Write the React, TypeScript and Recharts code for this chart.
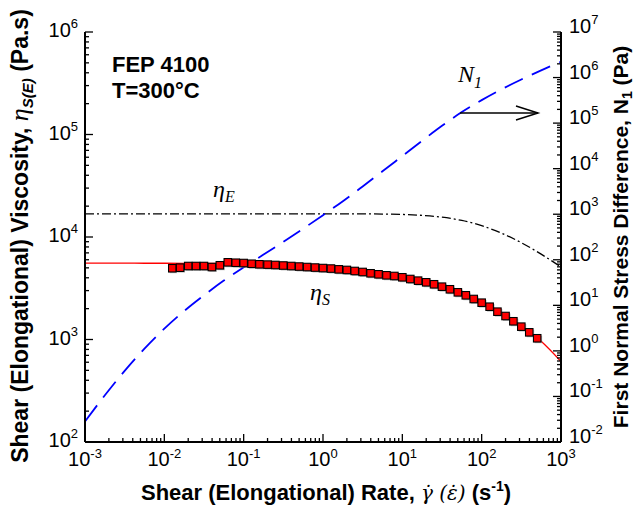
import React from "react";
import { ComposedChart, Line, Scatter, XAxis, YAxis } from "recharts";

// measured shear viscosity (red squares)
const shearRate = [
  0.0126, 0.0158, 0.02, 0.0251, 0.0316, 0.0398, 0.0501, 0.0631, 0.0794, 0.1,
  0.126, 0.158, 0.2, 0.251, 0.316, 0.398, 0.501, 0.631, 0.794, 1,
  1.26, 1.58, 2, 2.51, 3.16, 3.98, 5.01, 6.31, 7.94, 10,
  12.6, 15.8, 20, 25.1, 31.6, 39.8, 50.1, 63.1, 79.4, 100,
  126, 158, 200, 251, 316, 398, 501,
];
const shearEta = [
  4955, 5018, 5212, 5212, 5212, 5093, 5297, 5662, 5610, 5572,
  5483, 5416, 5378, 5334, 5270, 5212, 5150, 5093, 5035, 4978,
  4922, 4835, 4770, 4660, 4557, 4425, 4325, 4230, 4165, 4045,
  3893, 3750, 3614, 3457, 3275, 3090, 2886, 2700, 2484, 2286,
  2089, 1868, 1695, 1506, 1334, 1175, 1028,
];

// model curves, one value every quarter decade
const modelRate = [
  0.001, 0.00178, 0.00316, 0.00562, 0.01, 0.0178, 0.0316, 0.0562, 0.1, 0.178,
  0.316, 0.562, 1, 1.78, 3.16, 5.62, 10, 17.8, 31.6, 56.2,
  100, 178, 316, 562, 1000,
];
const etaSFit = [
  5550, 5550, 5550, 5548, 5545, 5540, 5530, 5515, 5490, 5440,
  5360, 5230, 5060, 4840, 4580, 4300, 4000, 3660, 3280, 2830,
  2330, 1830, 1360, 960, 610,
];
const etaEFit = [
  16800, 16800, 16800, 16800, 16800, 16800, 16800, 16800, 16800, 16800,
  16800, 16800, 16800, 16800, 16800, 16750, 16600, 16250, 15600, 14500,
  12900, 10900, 8800, 6800, 5100,
];
const n1Fit = [
  0.0282, 0.106, 0.365, 1.12, 3.07, 7.5, 16.6, 34.9, 68.4, 130,
  248, 481, 955, 1934, 4074, 8738, 18970, 41170, 87300, 174800,
  319900, 552600, 907000, 1437000, 2226000,
];

// axis decades and their exponent labels
const xMajor = [0.001, 0.01, 0.1, 1, 10, 100, 1000];
const xExp = ["-3", "-2", "-1", "0", "1", "2", "3"];
const leftMajor = [100, 1000, 10000, 100000, 1000000];
const leftExp = ["2", "3", "4", "5", "6"];
const rightMajor = [0.01, 0.1, 1, 10, 100, 1000, 10000, 100000, 1000000, 10000000];
const rightExp = ["-2", "-1", "0", "1", "2", "3", "4", "5", "6", "7"];

const SANS = "'Liberation Sans', Arial, Helvetica, sans-serif";
const SERIF = "'Liberation Serif', 'Times New Roman', serif";

const shearData = shearRate.map((rate, i) => ({ rate, eta: shearEta[i] }));
const etaSData = modelRate.map((rate, i) => ({ rate, eta: etaSFit[i] }));
const etaEData = modelRate.map((rate, i) => ({ rate, eta: etaEFit[i] }));
const n1Data = modelRate.map((rate, i) => ({ rate, n1: n1Fit[i] }));

// log ticks: every decade plus 2..9 in between
const withMinors = (majors: number[]) => {
  const out: number[] = [];
  majors.forEach((m, i) => {
    if (i === majors.length - 1) {
      out.push(m);
      return;
    }
    for (let k = 1; k <= 9; k++) out.push(m * k);
  });
  return out;
};

const majorIndex = (majors: number[], v: number) =>
  majors.findIndex((m) => Math.abs(v / m - 1) < 1e-6);

const TICK = 8;
const MINOR = 4;
const LABEL_SIZE = 20;
const EXP_SIZE = 13;

const BottomTick = ({ x, y, payload }: any) => {
  const i = majorIndex(xMajor, payload.value);
  return (
    <g>
      <line x1={x} x2={x} y1={y} y2={y - (i >= 0 ? TICK : MINOR)} stroke="#000" strokeWidth={1.3} />
      {i >= 0 && (
        <text x={x} y={y + 24} textAnchor="middle" fontSize={LABEL_SIZE} fontFamily={SANS} fill="#000">
          10
          <tspan dy={-8} fontSize={EXP_SIZE}>
            {xExp[i]}
          </tspan>
        </text>
      )}
    </g>
  );
};

const TopTick = ({ x, y, payload }: any) => {
  const i = majorIndex(xMajor, payload.value);
  return <line x1={x} x2={x} y1={y} y2={y + (i >= 0 ? TICK : MINOR)} stroke="#000" strokeWidth={1.3} />;
};

const LeftTick = ({ x, y, payload }: any) => {
  const i = majorIndex(leftMajor, payload.value);
  return (
    <g>
      <line x1={x} x2={x + (i >= 0 ? TICK : MINOR)} y1={y} y2={y} stroke="#000" strokeWidth={1.3} />
      {i >= 0 && (
        <text x={x - 7} y={y + 5} textAnchor="end" fontSize={LABEL_SIZE} fontFamily={SANS} fill="#000">
          10
          <tspan dy={-9} fontSize={EXP_SIZE}>
            {leftExp[i]}
          </tspan>
        </text>
      )}
    </g>
  );
};

const RightTick = ({ x, y, payload }: any) => {
  const i = majorIndex(rightMajor, payload.value);
  return (
    <g>
      <line x1={x} x2={x - (i >= 0 ? TICK : MINOR)} y1={y} y2={y} stroke="#000" strokeWidth={1.3} />
      {i >= 0 && (
        <text x={x + 8} y={y + 1} textAnchor="start" fontSize={LABEL_SIZE} fontFamily={SANS} fill="#000">
          10
          <tspan dy={-9} fontSize={EXP_SIZE}>
            {rightExp[i]}
          </tspan>
        </text>
      )}
    </g>
  );
};

const SquareMarker = ({ cx, cy }: any) => {
  if (cx == null || cy == null) return null;
  const s = 7.5;
  return (
    <g>
      <rect x={cx - s / 2 + 1.2} y={cy - s / 2 + 1.2} width={s} height={s} fill="#888" opacity={0.55} />
      <rect x={cx - s / 2} y={cy - s / 2} width={s} height={s} fill="#ff0000" stroke="#000" strokeWidth={1.1} />
    </g>
  );
};

const axisLine = { stroke: "#000", strokeWidth: 2 };

const App = () => {
  return (
    <div style={{ position: "absolute", left: 0, top: 0, width: 635, height: 507, background: "#fff" }}>
      <ComposedChart width={635} height={507} margin={{ top: 32, right: 0, bottom: 0, left: 0 }}>
        <XAxis
          xAxisId="bottom"
          dataKey="rate"
          type="number"
          scale="log"
          domain={[0.001, 1000]}
          allowDataOverflow
          ticks={withMinors(xMajor)}
          interval={0}
          height={65}
          tickSize={0}
          tickMargin={0}
          axisLine={axisLine}
          tick={<BottomTick />}
        />
        <XAxis
          xAxisId="top"
          orientation="top"
          dataKey="rate"
          type="number"
          scale="log"
          domain={[0.001, 1000]}
          allowDataOverflow
          ticks={withMinors(xMajor)}
          interval={0}
          height={0}
          tickSize={0}
          tickMargin={0}
          axisLine={axisLine}
          tick={<TopTick />}
        />
        <YAxis
          yAxisId="left"
          type="number"
          scale="log"
          domain={[100, 1000000]}
          allowDataOverflow
          ticks={withMinors(leftMajor)}
          interval={0}
          width={85}
          tickSize={0}
          tickMargin={0}
          axisLine={axisLine}
          tick={<LeftTick />}
        />
        <YAxis
          yAxisId="right"
          orientation="right"
          type="number"
          scale="log"
          domain={[0.01, 10000000]}
          allowDataOverflow
          ticks={withMinors(rightMajor)}
          interval={0}
          width={74}
          tickSize={0}
          tickMargin={0}
          axisLine={axisLine}
          tick={<RightTick />}
        />
        <Line
          xAxisId="bottom"
          yAxisId="left"
          data={etaSData}
          dataKey="eta"
          type="monotone"
          stroke="#ff0000"
          strokeWidth={1.3}
          dot={false}
          activeDot={false}
          isAnimationActive={false}
        />
        <Scatter
          xAxisId="bottom"
          yAxisId="left"
          data={shearData}
          dataKey="eta"
          shape={<SquareMarker />}
          isAnimationActive={false}
        />
        <Line
          xAxisId="bottom"
          yAxisId="left"
          data={etaEData}
          dataKey="eta"
          type="monotone"
          stroke="#000"
          strokeWidth={1.3}
          strokeDasharray="9 3 2 3"
          dot={false}
          activeDot={false}
          isAnimationActive={false}
        />
        <Line
          xAxisId="bottom"
          yAxisId="right"
          data={n1Data}
          dataKey="n1"
          type="monotone"
          stroke="#0000ff"
          strokeWidth={1.8}
          strokeDasharray="20 10"
          dot={false}
          activeDot={false}
          isAnimationActive={false}
        />
      </ComposedChart>

      {/* annotations and axis titles */}
      <svg
        width={635}
        height={507}
        style={{ position: "absolute", left: 0, top: 0, pointerEvents: "none" }}
      >
        <text x={112} y={72} fontSize={22} fontWeight="bold" fontFamily={SANS}>
          FEP 4100
        </text>
        <text x={112} y={98} fontSize={22} fontWeight="bold" fontFamily={SANS}>
          T=300°C
        </text>
        <text x={213} y={197} fontSize={24} fontStyle="italic" fontFamily={SERIF}>
          η
          <tspan dy={5} fontSize={16}>
            E
          </tspan>
        </text>
        <text x={310} y={300} fontSize={24} fontStyle="italic" fontFamily={SERIF}>
          η
          <tspan dy={5} fontSize={16}>
            S
          </tspan>
        </text>
        <text x={458} y={82} fontSize={24} fontStyle="italic" fontFamily={SERIF}>
          N
          <tspan dy={6} fontSize={16}>
            1
          </tspan>
        </text>
        <g stroke="#000" strokeWidth={1.5} fill="none">
          <line x1={460} y1={113} x2={538} y2={113} />
          <polyline points="516,106 538,113 516,120" />
        </g>

        <text x={326} y={500} textAnchor="middle" fontSize={22} fontWeight="bold" fontFamily={SANS}>
          Shear (Elongational) Rate,{" "}
          <tspan fontFamily="'DejaVu Serif', serif" fontStyle="italic" fontWeight="normal" fontSize={20}>
            γ̇ (ε̇)
          </tspan>{" "}
          (s
          <tspan dy={-9} fontSize={14}>
            -1
          </tspan>
          <tspan dy={9}>)</tspan>
        </text>

        <text
          transform="translate(28,236) rotate(-90)"
          textAnchor="middle"
          fontSize={23}
          fontWeight="bold"
          fontFamily={SANS}
        >
          Shear (Elongational) Viscosity,{" "}
          <tspan fontFamily={SERIF} fontStyle="italic" fontWeight="normal" fontSize={26}>
            η
          </tspan>
          <tspan dy={5} fontSize={15} fontStyle="italic">
            S(E)
          </tspan>
          <tspan dy={-5}> (Pa.s)</tspan>
        </text>

        <text
          transform="translate(628,237) rotate(-90)"
          textAnchor="middle"
          fontSize={21}
          fontWeight="bold"
          fontFamily={SANS}
        >
          First Normal Stress Difference, N
          <tspan dy={4} fontSize={14}>
            1
          </tspan>
          <tspan dy={-4}> (Pa)</tspan>
        </text>
      </svg>
    </div>
  );
};

export default App;
